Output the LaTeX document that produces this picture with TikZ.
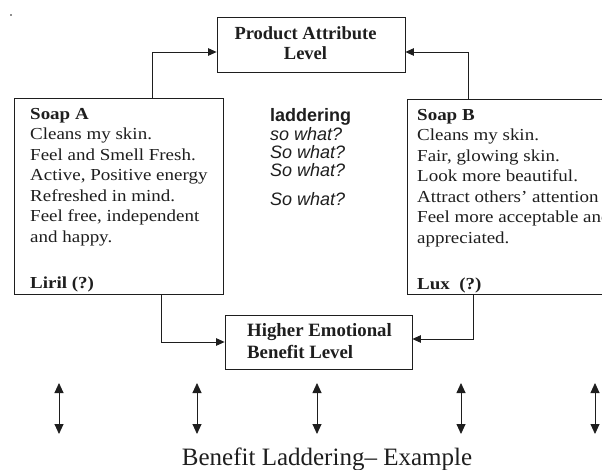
\documentclass[tikz,border=0pt]{standalone}
\usepackage{fontspec}
\setmainfont{Liberation Serif}
\newfontfamily\boxfont[FakeStretch=1.13]{Liberation Serif}
\newfontfamily\helv{Liberation Sans}
\usetikzlibrary{arrows.meta}
\definecolor{ink}{HTML}{1E1E1E}
\begin{document}
\begin{tikzpicture}[x=1pt,y=-1pt,
  levelbox/.style={draw=ink, line width=0.8pt, inner sep=0pt},
  soapbox/.style={draw=ink, line width=0.9pt, inner sep=0pt},
  boxtext/.style={anchor=north west, inner sep=0pt, align=left, text=ink,
    font=\boxfont\fontsize{16.8}{20.5}\selectfont},
  link/.style={draw=ink, line width=0.8pt, -{Triangle[length=8.5pt,width=7.5pt]}},
  updown/.style={draw=ink, line width=0.9pt,
    {Triangle[length=10pt,width=9pt]}-{Triangle[length=10pt,width=9pt]}},
]
\useasboundingbox (0,0) rectangle (602,470);
\clip (0,0) rectangle (602,470);

% stray mark in the corner
\fill[ink] (11,15) circle (0.8pt);

% level boxes
\node[levelbox, minimum width=188pt, minimum height=55pt] (attr) at (311,44.5) {};
\node[inner sep=0pt, align=center, text=ink,
      font=\bfseries\fontsize{18.5}{20}\selectfont] (attrtext) at (305.5,43.5)
      {Product Attribute\\Level};
\node[levelbox, minimum width=187pt, minimum height=54pt] (emo) at (318.5,342) {};
\node[anchor=west, inner sep=0pt, align=left, text=ink,
      font=\bfseries\fontsize{18.8}{22.5}\selectfont] (emotext) at (247,341)
      {Higher Emotional\\Benefit Level};

% soap boxes
\node[soapbox, minimum width=209pt, minimum height=196pt] (soapA) at (118.5,196) {};
\node[soapbox, minimum width=243pt, minimum height=195pt] (soapB) at (528.5,196.5) {};

\node[boxtext] (textA) at (30,108)
  {\textbf{Soap A}\\
   Cleans my skin.\\
   Feel and Smell Fresh.\\
   Active, Positive energy\\
   Refreshed in mind.\\
   Feel free, independent\\
   and happy.\\[25.5pt]
   \textbf{Liril (?)}};
\node[boxtext] (textB) at (417,109)
  {\textbf{Soap B}\\
   Cleans my skin.\\
   Fair, glowing skin.\\
   Look more beautiful.\\
   Attract others’ attention\\
   Feel more acceptable and\\
   appreciated.\\[25.5pt]
   \textbf{Lux~~(?)}};

% laddering questions
\node[anchor=north west, inner sep=0pt, align=left, text=ink,
      font=\helv\fontsize{18}{18}\selectfont] (ladder) at (270,108)
  {\textbf{laddering}\\[1pt]
   \textit{so what?}\\
   \textit{So what?}\\
   \textit{So what?}\\[11pt]
   \textit{So what?}};

% connectors
\coordinate (jA) at (152,0);
\coordinate (jB) at (468,0);
\coordinate (jC) at (161,0);
\coordinate (jD) at (473,0);
\draw[link] (soapA.north -| jA) |- ([yshift=-7.5pt]attr.west);
\draw[link] (soapB.north -| jB) |- ([yshift=-7.5pt]attr.east);
\draw[link] (soapA.south -| jC) |- (emo.west);
\draw[link] (soapB.south -| jD) |- ([yshift=3pt]emo.east);

% ladder rungs
\foreach \i/\x in {1/59, 2/197, 3/317, 4/461, 5/595} {
  \coordinate (up\i) at (\x,383);
  \coordinate (dn\i) at (\x,434);
  \draw[updown] (up\i) -- (dn\i);
}

% caption
\node[anchor=base, inner sep=0pt, text=ink, font=\fontsize{25}{28}\selectfont]
  (caption) at (327,465) {Benefit Laddering– Example};
\end{tikzpicture}
\end{document}
